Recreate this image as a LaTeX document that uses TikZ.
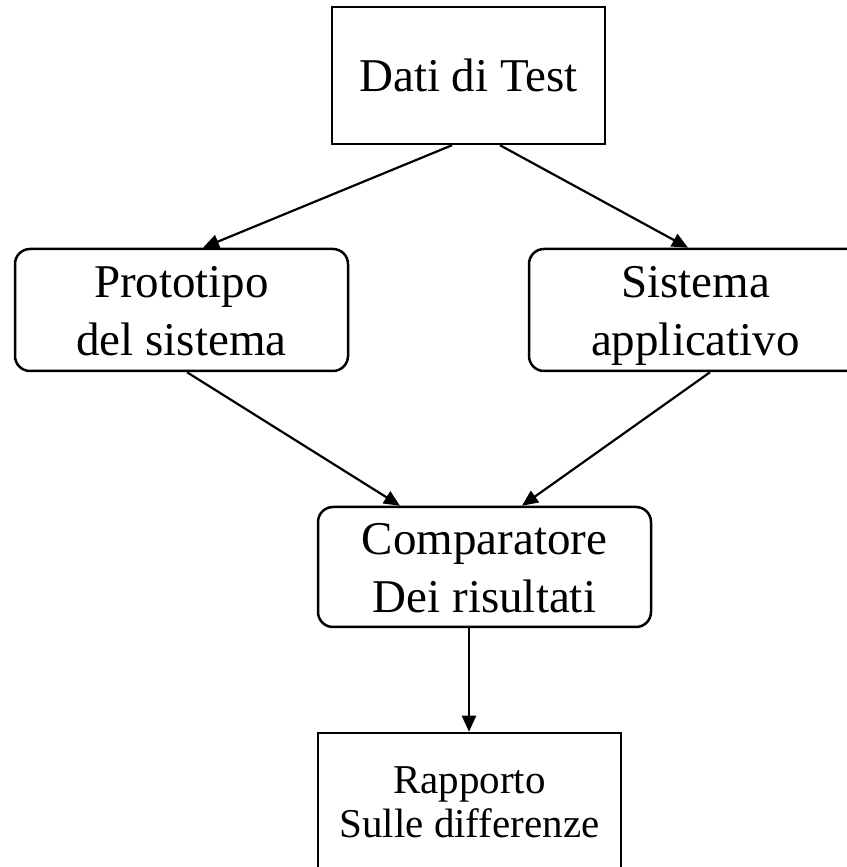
\documentclass[tikz,border=0pt]{standalone}
\usepackage{fontspec}
\setmainfont{Liberation Serif}
\usetikzlibrary{positioning}
\usetikzlibrary{arrows.meta}
\newcommand{\bigln}{\rule[-12pt]{0pt}{58pt}}
\newcommand{\smallln}{\rule[-15pt]{0pt}{44pt}}
\tikzset{
    sqbox/.style = {rectangle, line width=2.5pt, draw=black, align=center, inner sep=0pt, font=\fontsize{47}{58}\selectfont},
    rdbox/.style = {sqbox, rounded corners=15pt},
    edgen/.style = {-{Triangle[length=16pt,width=14pt]}, line width=2.2pt},
}
\begin{document}
\begin{tikzpicture}[x=1pt,y=1pt]
\useasboundingbox (0,0) rectangle (846,867);
%
\node[sqbox, minimum width=273pt, minimum height=137pt] at (468.5,791.5) (dati) {Dati di Test};
\node[rdbox, minimum width=333pt, minimum height=122pt] at (181.5,557) (proto) {\bigln Prototipo\\\bigln del sistema};
\node[rdbox, minimum width=333pt, minimum height=122pt] at (695.5,557) (sist) {\bigln Sistema\\\bigln applicativo};
\node[rdbox, minimum width=333pt, minimum height=120pt] at (484.5,300) (comp) {\bigln Comparatore\\\bigln Dei risultati};
\node[sqbox, minimum width=303pt, minimum height=152pt, font=\fontsize{41}{44}\selectfont] at (469.5,58) (rapp) {\smallln Rapporto\\\smallln Sulle differenze};
%
\draw[edgen] ([xshift=-16.5pt]dati.south) -- ([xshift=21.5pt]proto.north);
\draw[edgen] ([xshift=31.5pt]dati.south) -- ([xshift=-7.5pt]sist.north);
\draw[edgen] ([xshift=5.5pt]proto.south) -- ([xshift=-84.5pt]comp.north);
\draw[edgen] ([xshift=14.5pt]sist.south) -- ([xshift=37.5pt]comp.north);
\draw[edgen] ([xshift=-15.5pt]comp.south) -- ([xshift=-0.5pt]rapp.north);
\end{tikzpicture}
\end{document}
